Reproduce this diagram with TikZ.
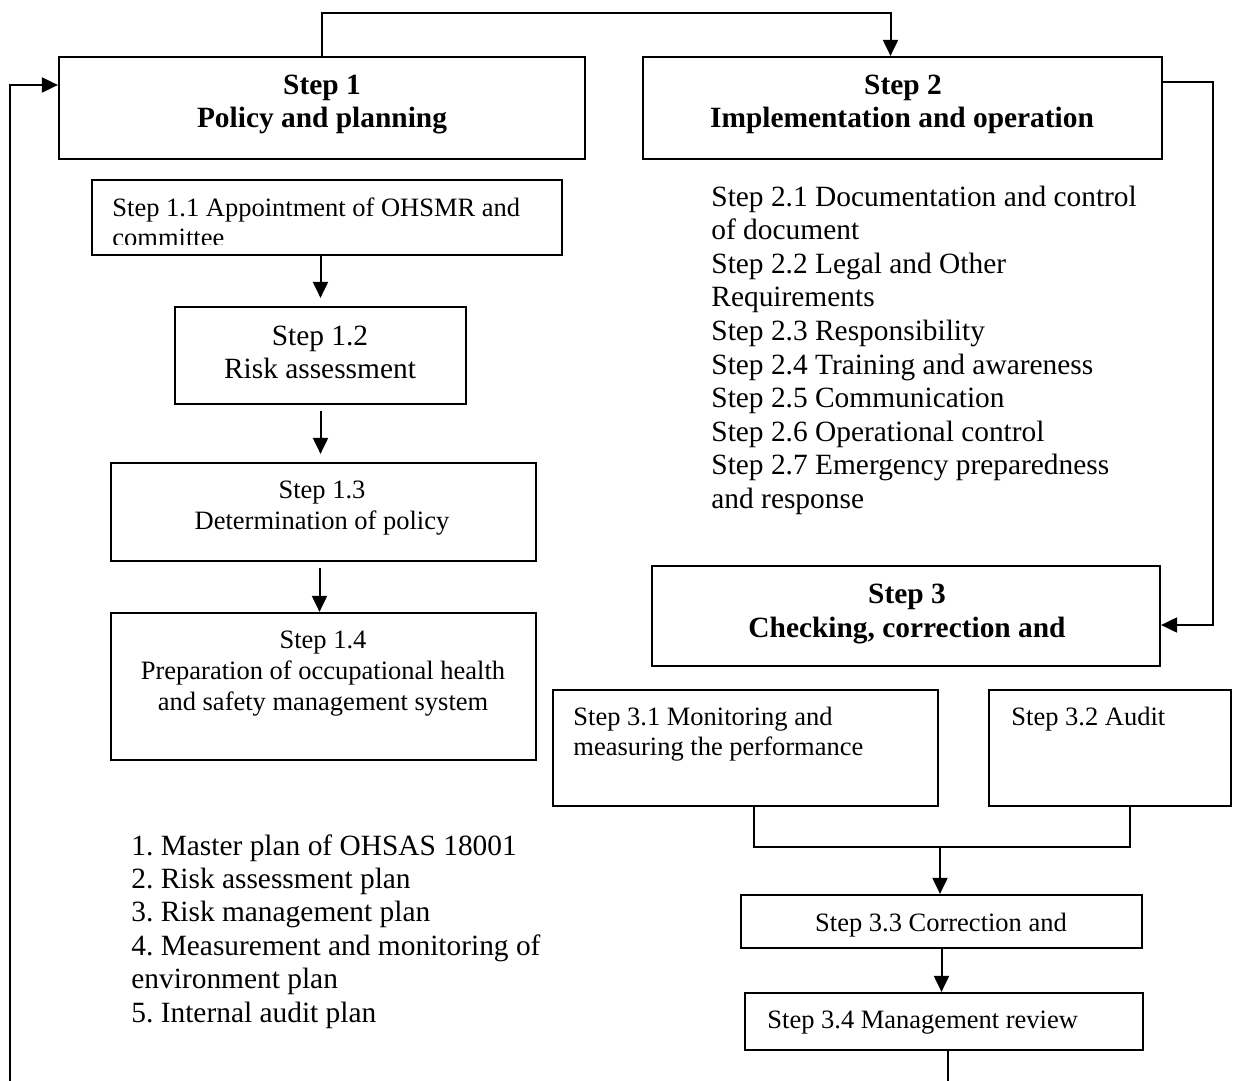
\documentclass[tikz,border=0pt]{standalone}
\usepackage{fontspec}
\setmainfont{Liberation Serif}
\usetikzlibrary{arrows.meta,fit}
\frenchspacing
\begin{document}
\begin{tikzpicture}[x=0.5pt,y=-0.5pt,
  box/.style={draw, line width=1.1pt, inner sep=0pt},
  conn/.style={line width=1pt},
  arr/.style={conn, -{Triangle[length=8pt,width=7.5pt]}},
  big/.style={font=\fontsize{14.7}{16.8}\selectfont, inner sep=0pt},
  bigb/.style={font=\fontsize{14.7}{16.8}\selectfont\bfseries, inner sep=0pt},
  small/.style={font=\fontsize{13.25}{15}\selectfont, inner sep=0pt}]
\useasboundingbox (0,0) rectangle (1238,1081);
% boxes
\node[box, fit={(59,57)(585,159)}] (s1) {};
\node[box, fit={(643,57)(1162,159)}] (s2) {};
\node[box, fit={(92,180)(562,255)}] (s11) {};
\node[box, fit={(175,307)(466,404)}] (s12) {};
\node[box, fit={(111,463)(536,561)}] (s13) {};
\node[box, fit={(111,613)(536,760)}] (s14) {};
\node[box, fit={(652,566)(1160,666)}] (s3) {};
\node[box, fit={(553,690)(938,806)}] (s31) {};
\node[box, fit={(989,690)(1231,806)}] (s32) {};
\node[box, fit={(741,895)(1142,948)}] (s33) {};
\node[box, fit={(745,993)(1143,1050)}] (s34) {};
% coordinates
\coordinate (ctop) at (600,13);
\coordinate (cright) at (1213,300);
\coordinate (cbl) at (10,1081);
\coordinate (cbr) at (940,847);
\coordinate (cb34) at (948,1081);
% connectors
\draw[arr] (s1.north) -- (s1.north |- ctop) -| ([xshift=-6pt]s2.north);
\draw[arr] ([yshift=13pt]s2.east) -| (cright) |- ([yshift=-4.5pt]s3.east);
\draw[arr] (cbl) |- ([yshift=11.5pt]s1.west);
\draw[arr, shorten >=4pt] (s12.north |- s11.south) -- (s12.north);
\draw[arr, shorten <=3pt, shorten >=4pt] (s12.south) -- (s12.south |- s13.north);
\draw[arr, shorten <=3pt] ([xshift=-2pt]s13.south) -- ([xshift=-2pt]s14.north);
\draw[conn] ([xshift=4pt]s31.south) |- (cbr) -| ([xshift=10pt]s32.south);
\draw[arr] (cbr) -- (cbr |- s33.north);
\draw[arr] (s33.south) -- (s33.south |- s34.north);
\draw[conn] (cb34 |- s34.south) -- (cb34);
% headers
\node[bigb, anchor=base] (h1a) at (322,95) {Step 1};
\node[bigb, anchor=base] (h1b) at (322,128) {Policy and planning};
\node[bigb, anchor=base] (h2a) at (903,95) {Step 2};
\node[bigb, anchor=base] (h2b) at (902,128) {Implementation and operation};
\node[bigb, anchor=base] (h3a) at (907,603) {Step 3};
\node[bigb, anchor=base] (h3b) at (907,637) {Checking, correction and};
% step 1.x texts
\node[small, anchor=base west] (t11a) at (112,217) {Step 1.1 Appointment of OHSMR and};
\begin{scope}
\clip (92,180) rectangle (562,244);
\node[small, anchor=base west] (t11b) at (112,247) {committee};
\end{scope}
\node[big, anchor=base] (t12a) at (320,345) {Step 1.2};
\node[big, anchor=base] (t12b) at (320,378) {Risk assessment};
\node[small, anchor=base] (t13a) at (322,498) {Step 1.3};
\node[small, anchor=base] (t13b) at (322,529) {Determination of policy};
\node[small, anchor=base] (t14a) at (323,648) {Step 1.4};
\node[small, anchor=base] (t14b) at (323,679) {Preparation of occupational health};
\node[small, anchor=base] (t14c) at (323,710) {and safety management system};
% step 2 list
\foreach \t [count=\i] in {Step 2.1 Documentation and control, of document,
  Step 2.2 Legal and Other, Requirements, Step 2.3 Responsibility,
  Step 2.4 Training and awareness, Step 2.5 Communication,
  Step 2.6 Operational control, Step 2.7 Emergency preparedness, and response}
  \node[big, anchor=base west] (l2\i) at (711,{206+33.6*(\i-1)}) {\t};
% step 3.x texts
\node[small, anchor=base west] (t31a) at (573,725) {Step 3.1 Monitoring and};
\node[small, anchor=base west] (t31b) at (573,755) {measuring the performance};
\node[small, anchor=base west] (t32) at (1011,725) {Step 3.2 Audit};
\node[small, anchor=base] (t33) at (941,931) {Step 3.3 Correction and};
\node[small, anchor=base west] (t34) at (767,1028) {Step 3.4 Management review};
% plan list
\foreach \t [count=\i] in {1. Master plan of OHSAS 18001, 2. Risk assessment plan,
  3. Risk management plan, 4. Measurement and monitoring of,
  environment plan, 5. Internal audit plan}
  \node[big, anchor=base west] (p\i) at (131,{855+33.4*(\i-1)}) {\t};
\end{tikzpicture}
\end{document}
